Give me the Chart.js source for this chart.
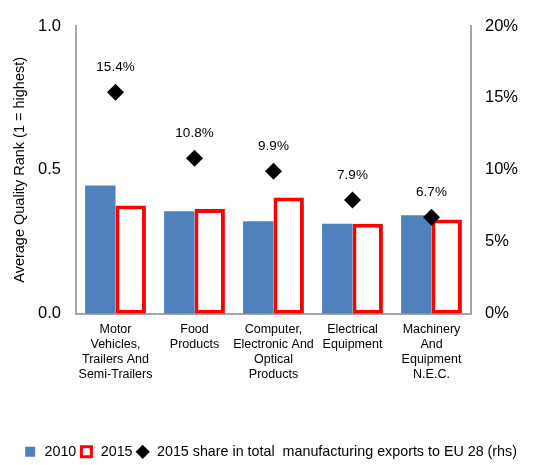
<!DOCTYPE html>
<html>
<head>
<meta charset="utf-8">
<script src="https://cdn.jsdelivr.net/npm/chart.js@4"></script>
<style>
  html, body { margin: 0; padding: 0; background: #fff; }
  #wrap { width: 540px; height: 465px; }
</style>
</head>
<body>
<div id="wrap"><canvas id="chart"></canvas></div>
<script>
const categories = [
  ["Motor", "Vehicles,", "Trailers And", "Semi-Trailers"],
  ["Food", "Products"],
  ["Computer,", "Electronic And", "Optical", "Products"],
  ["Electrical", "Equipment"],
  ["Machinery", "And", "Equipment", "N.E.C."],
];
const rank2010 = [0.446, 0.356, 0.321, 0.313, 0.342];
const rank2015 = [0.376, 0.364, 0.404, 0.313, 0.327];
const share2015 = [15.4, 10.8, 9.9, 7.9, 6.7];
const leftTicks = [0, 0.5, 1.0];
const rightTicks = [0, 5, 10, 15, 20];

const FONT = "'Liberation Sans', Arial, sans-serif";
const BLUE = "#4F81BD";
const RED = "#FF0000";
const AXIS = "#A6A6A6";

// percent labels above the diamonds
const pointLabels = {
  id: "pointLabels",
  afterDatasetsDraw(chart) {
    const ctx = chart.ctx;
    const meta = chart.getDatasetMeta(2);
    ctx.save();
    ctx.font = "13.5px " + FONT;
    ctx.fillStyle = "#000";
    ctx.textAlign = "center";
    ctx.textBaseline = "middle";
    meta.data.forEach((pt, i) => {
      ctx.fillText(share2015[i].toFixed(1) + "%", pt.x, pt.y - 25);
    });
    ctx.restore();
  },
};

const config = {
  type: "bar",
  data: {
    labels: categories,
    datasets: [
      {
        label: "2010",
        data: rank2010,
        backgroundColor: BLUE,
        borderWidth: 0,
        yAxisID: "y",
        order: 1,
      },
      {
        label: "2015",
        data: rank2015,
        backgroundColor: "#FFFFFF",
        borderColor: RED,
        borderWidth: 4,
        borderSkipped: false,
        yAxisID: "y",
        order: 1,
      },
      {
        type: "line",
        label: "2015 share in total  manufacturing exports to EU 28 (rhs)",
        data: share2015,
        showLine: false,
        pointStyle: "rectRot",
        pointRadius: 8.5,
        pointHoverRadius: 8.5,
        backgroundColor: "#000",
        borderColor: "#000",
        borderWidth: 0,
        yAxisID: "y1",
        order: 0,
      },
    ],
  },
  options: {
    responsive: true,
    maintainAspectRatio: false,
    animation: false,
    layout: { padding: { top: 26, bottom: -4, left: 0, right: 0 } },
    datasets: {
      bar: { barPercentage: 1, categoryPercentage: 0.77 },
    },
    plugins: {
      tooltip: { enabled: false },
      legend: {
        position: "bottom",
        labels: {
          usePointStyle: true,
          boxHeight: 10,
          padding: 3,
          color: "#000",
          font: { family: FONT, size: 14.3 },
          generateLabels: () => [
            { text: "2010", fillStyle: BLUE, strokeStyle: BLUE, lineWidth: 0, pointStyle: "rect" },
            { text: "2015", fillStyle: "#FFFFFF", strokeStyle: RED, lineWidth: 3, pointStyle: "rect" },
            { text: "2015 share in total  manufacturing exports to EU 28 (rhs)", fillStyle: "#000", strokeStyle: "#000", lineWidth: 0, pointStyle: "rectRot" },
          ],
        },
      },
    },
    scales: {
      x: {
        grid: { display: false },
        border: { display: true, color: AXIS, width: 2 },
        ticks: {
          color: "#000",
          font: { family: FONT, size: 12.5 },
          maxRotation: 0,
          autoSkip: false,
          padding: 0,
        },
        afterFit: (scale) => { scale.height = 128; },
      },
      y: {
        position: "left",
        min: 0,
        max: 1,
        grid: { display: false },
        border: { display: true, color: AXIS, width: 2 },
        afterBuildTicks: (scale) => { scale.ticks = leftTicks.map((v) => ({ value: v })); },
        ticks: {
          color: "#000",
          font: { family: FONT, size: 16.5 },
          padding: 7,
          callback: (v) => Number(v).toFixed(1),
        },
        title: {
          display: true,
          text: "Average Quality Rank (1 = highest)",
          color: "#000",
          font: { family: FONT, size: 14.5 },
          padding: { top: 11, bottom: 0 },
        },
        afterFit: (scale) => { scale.width = 76; },
      },
      y1: {
        position: "right",
        min: 0,
        max: 20,
        grid: { display: false },
        border: { display: true, color: AXIS, width: 2 },
        afterBuildTicks: (scale) => { scale.ticks = rightTicks.map((v) => ({ value: v })); },
        ticks: {
          color: "#000",
          font: { family: FONT, size: 16.5 },
          padding: 6,
          callback: (v) => v + "%",
        },
        afterFit: (scale) => { scale.width = 69; },
      },
    },
  },
  plugins: [pointLabels],
};

new Chart(document.getElementById("chart"), config);
</script>
</body>
</html>
